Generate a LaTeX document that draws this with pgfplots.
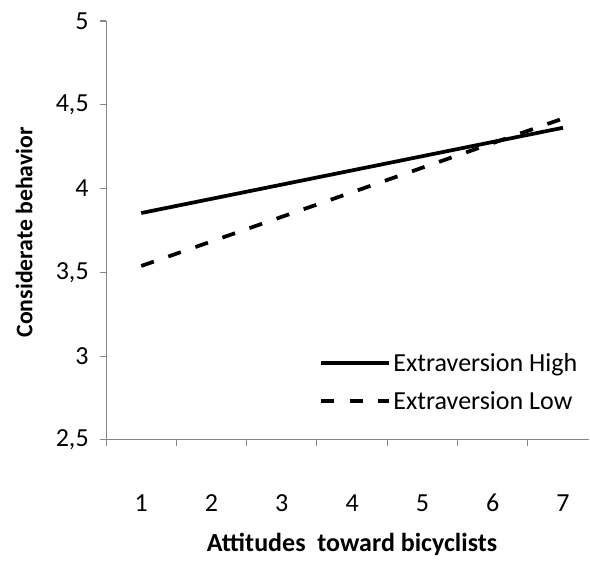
\documentclass[border=0pt]{standalone}
\usepackage{pgfplots}
\pgfplotsset{compat=1.18}
\usepackage{fontspec}
\setmainfont{Carlito}
\definecolor{axgray}{HTML}{868686}
\begin{document}
\begin{tikzpicture}[font=\fontsize{19.5}{23}\selectfont]
\begin{axis}[
  name=ax,
  scale only axis,
  width=362pt, height=314pt,
  xmin=0.5, xmax=7.37,
  ymin=2.5, ymax=5,
  axis x line=bottom, axis y line=left,
  axis line style={axgray, line width=0.8pt, -},
  every tick/.style={axgray, line width=0.8pt},
  tick align=outside,
  xtick={1,...,7},
  major x tick style={draw=none},
  minor xtick={0.5,1.5,...,6.5},
  ytick={2.5,3,...,5},
  major tick length=4.5pt, minor tick length=4.5pt,
  /pgf/number format/assume math mode=true,
  /pgf/number format/use comma,
  /pgf/number format/fixed,
  /pgf/number format/precision=1,
  xticklabel style={anchor=base, yshift=-49.5pt},
  yticklabel style={xshift=-5pt},
  xlabel={\bfseries Attitudes\ \ toward bicyclists},
  xlabel style={at={(rel axis cs:0.5,0)}, anchor=base, xshift=3.4pt, yshift=-84pt},
  ylabel={\fontsize{17.8}{21}\selectfont\bfseries Considerate behavior},
  ylabel style={at={(rel axis cs:0,0.5)}, anchor=center, yshift=61.5pt, xshift=-1.5pt},
  clip=false,
  legend style={draw=none, fill=none, at={(rel axis cs:0.432,0.221)}, anchor=north west,
    row sep=9.75pt, font=\fontsize{19.5}{23}\selectfont},
  legend cell align=left,
  legend image code/.code={\draw[#1] (0pt,0pt) -- (51pt,0pt);},
]
\addplot[black, line width=2.8pt] coordinates {(1,3.854) (7,4.363)};
\addlegendentry{Extraversion High}
\addplot[black, line width=2.8pt, dash pattern=on 10pt off 11.5pt] coordinates {(1,3.538) (7,4.418)};
\addlegendentry{Extraversion Low}
\end{axis}
\path[use as bounding box] ([xshift=-79.5pt,yshift=-88.5pt]ax.south west) rectangle ([xshift=0.75pt,yshift=15.75pt]ax.north east);
\end{tikzpicture}
\end{document}
